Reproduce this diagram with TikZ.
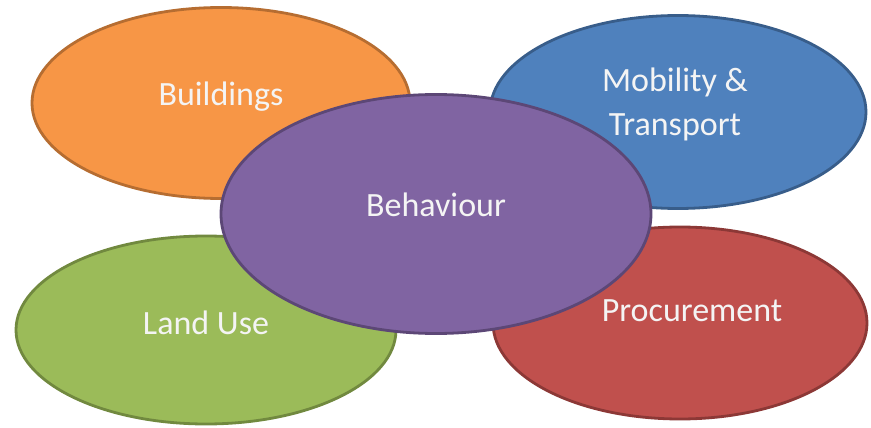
\documentclass[tikz,border=0pt]{standalone}
\usepackage{fontspec}
\setmainfont{Carlito}
\usetikzlibrary{shapes.geometric}

\definecolor{orangefill}{HTML}{F79646}
\definecolor{orangeline}{HTML}{B66D31}
\definecolor{bluefill}{HTML}{4F81BD}
\definecolor{blueline}{HTML}{385D8A}
\definecolor{purplefill}{HTML}{8064A2}
\definecolor{purpleline}{HTML}{5C4776}
\definecolor{greenfill}{HTML}{9BBB59}
\definecolor{greenline}{HTML}{71893F}
\definecolor{redfill}{HTML}{C0504D}
\definecolor{redline}{HTML}{8C3836}
\definecolor{txtcol}{HTML}{F4F4F4}

\begin{document}
\begin{tikzpicture}[x=1pt,y=1pt,
  blob/.style = {ellipse,line width=2.8pt,inner sep=0pt,outer sep=0pt},
  txt/.style = {text=txtcol,align=center,font=\fontsize{34}{44}\selectfont}]
\useasboundingbox (0,0) rectangle (871,-428);
\node[blob,fill=orangefill,draw=orangeline,minimum width=378,minimum height=191] (bld) at (221,-103) {};
\node[blob,fill=bluefill,draw=blueline,minimum width=376,minimum height=193] (mob) at (678,-112) {};
\node[blob,fill=greenfill,draw=greenline,minimum width=380,minimum height=188] (lnd) at (206,-330) {};
\node[blob,fill=redfill,draw=redline,minimum width=374,minimum height=192] (prc) at (680,-323) {};
\node[blob,fill=purplefill,draw=purpleline,minimum width=430,minimum height=239] (bhv) at (436,-214) {};
\node[txt] (bldt) at ([yshift=6pt]bld) {Buildings};
\node[txt] (mobt) at ([xshift=-3pt,yshift=8pt]mob) {Mobility \&\\Transport};
\node[txt] (lndt) at ([yshift=7pt]lnd) {Land Use};
\node[txt] (prct) at ([xshift=12pt,yshift=12pt]prc) {Procurement};
\node[txt] (bhvt) at ([yshift=9pt]bhv) {Behaviour};
\end{tikzpicture}
\end{document}
